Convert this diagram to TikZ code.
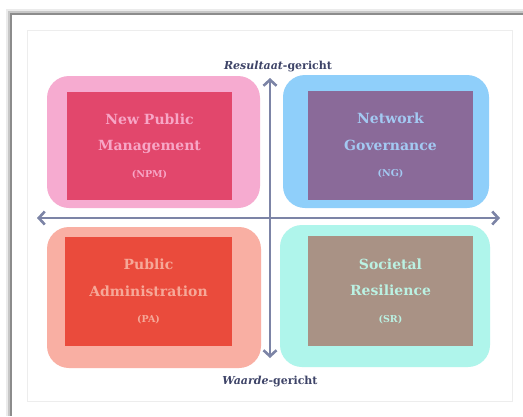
\documentclass[tikz,border=0pt]{standalone}
\usepackage{fontspec}
\setmainfont{DejaVu Serif}
\usetikzlibrary{arrows.meta}

\definecolor{npmlicht}{HTML}{F6ABD0}
\definecolor{npmdonker}{HTML}{E2476C}
\definecolor{npmtekst}{HTML}{F7A6C6}
\definecolor{nglicht}{HTML}{8FCFFA}
\definecolor{ngdonker}{HTML}{8A6A99}
\definecolor{ngtekst}{HTML}{A3C9F2}
\definecolor{palicht}{HTML}{F9AFA3}
\definecolor{padonker}{HTML}{EA4B3C}
\definecolor{patekst}{HTML}{F6A898}
\definecolor{srlicht}{HTML}{AFF5EB}
\definecolor{srdonker}{HTML}{A99285}
\definecolor{srtekst}{HTML}{BBF1E2}
\definecolor{ascol}{HTML}{7C84A6}
\definecolor{astekst}{HTML}{3E4468}

\newcommand{\afk}[1]{{\fontsize{9.5}{10}\selectfont(#1)}}

\begin{document}
\begin{tikzpicture}[x=1pt,y=-1pt]
\tikzset{
  buiten/.style={rounded corners=22pt, inner sep=0pt},
  binnen/.style={inner sep=0pt, align=center, font=\bfseries\fontsize{14}{26.5}\selectfont},
  as/.style={draw=ascol, line width=2.6pt, arrows={Straight Barb[length=6pt,width=13pt]-Straight Barb[length=6pt,width=13pt]}},
  aslabel/.style={text=astekst, font=\bfseries\fontsize{11}{12}\selectfont}
}
\useasboundingbox (0,0) rectangle (523,416);
% kader met schaduw
\fill[black!8] (6,9) rectangle (523,416);
\fill[black!22] (8,11) rectangle (523,416);
\fill[black!45] (10,13) rectangle (523,416);
\fill[white] (12,15) rectangle (523,416);
\draw[black!7] (27,30) rectangle (512,401);

% kwadranten
\node[buiten, fill=npmlicht, minimum width=213pt, minimum height=132pt] (NPMb) at (153.5,142) {};
\node[binnen, fill=npmdonker, text=npmtekst, minimum width=165pt, minimum height=108pt] (NPM) at (149.5,146)
  {New Public\\Management\\\afk{NPM}};
\node[buiten, fill=nglicht, minimum width=206pt, minimum height=133pt] (NGb) at (386,141.5) {};
\node[binnen, fill=ngdonker, text=ngtekst, minimum width=165pt, minimum height=109pt] (NG) at (390.5,145.5)
  {Network\\Governance\\\afk{NG}};
\node[buiten, fill=palicht, minimum width=214pt, minimum height=141pt] (PAb) at (154,297.5) {};
\node[binnen, fill=padonker, text=patekst, minimum width=167pt, minimum height=109pt] (PA) at (148.5,291.5)
  {Public\\Administration\\\afk{PA}};
\node[buiten, fill=srlicht, minimum width=210pt, minimum height=142pt] (SRb) at (385,296) {};
\node[binnen, fill=srdonker, text=srtekst, minimum width=165pt, minimum height=110pt] (SR) at (390.5,291)
  {Societal\\Resilience\\\afk{SR}};

% assen
\coordinate (W) at (37,218);
\coordinate (O) at (500,218);
\coordinate (N) at (270,78);
\coordinate (Z) at (270,358);
\draw[as] (W) -- (O);
\draw[as] (Z) -- (N);
\node[aslabel] (res) at (278,67) {\itshape Resultaat\upshape-gericht};
\node[aslabel] (waa) at (270,382) {\itshape Waarde\upshape-gericht};
\end{tikzpicture}
\end{document}
